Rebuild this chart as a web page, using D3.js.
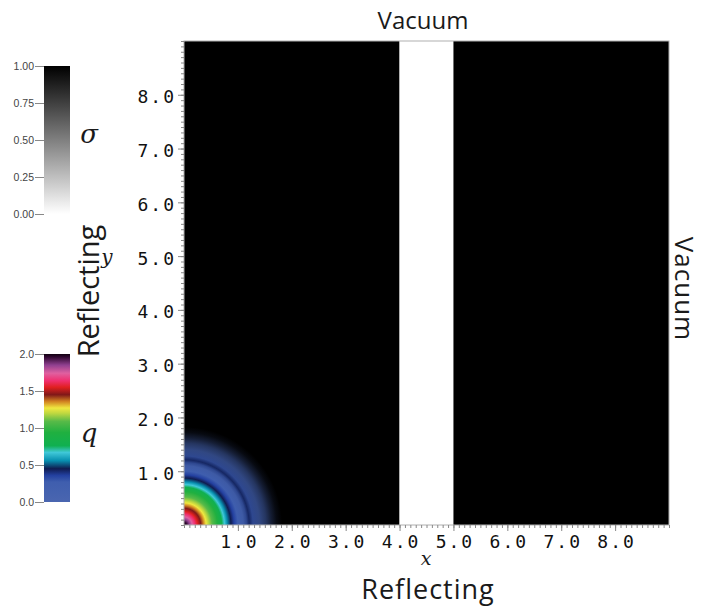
<!DOCTYPE html>
<html>
<head>
<meta charset="utf-8">
<script src="https://cdn.jsdelivr.net/npm/d3@7"></script>
<style>
  html, body { margin: 0; padding: 0; background: #fff; }
  svg { display: block; }
</style>
</head>
<body>
<svg id="chart" width="704" height="607"></svg>
<script>
// ---------------- DATA ----------------
const xTickLabels = [1, 2, 3, 4, 5, 6, 7, 8];
const yTickLabels = [1, 2, 3, 4, 5, 6, 7, 8];
const domainMax = 9;

// sigma field: vertical strips (x from, x to, sigma)
const stripX0 = [0, 4, 5];
const stripX1 = [4, 5, 9];
const stripSigma = [1, 0, 1];

// sigma colour bar ticks
const sigmaTicks = [0, 0.25, 0.5, 0.75, 1];
// q colour bar ticks
const qTicks = [0, 0.5, 1, 1.5, 2];

// q colormap stops (value -> colour)
const qMapValues = [0.0, 0.27, 0.36, 0.45, 0.56, 0.67, 0.76, 0.94, 1.09, 1.2, 1.27, 1.36, 1.45, 1.55, 1.64, 1.74, 1.85, 1.96, 2.0];
const qMapColors = ["#4a66b0", "#3f5eae", "#2340a0", "#101c50", "#0890b0", "#40c8d8", "#10b050", "#20b040", "#58ba48", "#c0d840", "#f0e840", "#d08020", "#801818", "#e02020", "#f03070", "#e060a0", "#904090", "#300830", "#100010"];

// radial profile of q about the source at the origin (radius in x units)
const profileR = [0.00, 0.05, 0.10, 0.15, 0.20, 0.25, 0.31, 0.36, 0.41, 0.45, 0.52, 0.62, 0.70, 0.75, 0.80, 0.87, 0.93, 1.00, 1.10, 1.16, 1.21, 1.28, 1.40, 1.52, 1.62, 1.72, 1.82];
const profileQ = [2.00, 1.96, 1.85, 1.74, 1.64, 1.55, 1.45, 1.36, 1.27, 1.20, 1.09, 0.94, 0.76, 0.67, 0.56, 0.45, 0.36, 0.27, 0.22, 0.30, 0.38, 0.30, 0.22, 0.18, 0.12, 0.08, 0.05];
const profileAlpha = [1, 1, 1, 1, 1, 1, 1, 1, 1, 1, 1, 1, 1, 1, 1, 1, 1, 1, 0.95, 0.85, 0.7, 0.85, 0.75, 0.55, 0.3, 0.1, 0];

// ---------------- DRAW ----------------
const svg = d3.select("#chart");
const defs = svg.append("defs");

const x = d3.scaleLinear().domain([0, domainMax]).range([184, 669]);
const y = d3.scaleLinear().domain([0, domainMax]).range([525, 41]);
const sigmaColor = d3.scaleLinear().domain([0, 1]).range(["#ffffff", "#000000"]);
const qColor = d3.scaleLinear().domain(qMapValues).range(qMapColors).clamp(true);

// clip for plot
defs.append("clipPath").attr("id", "plotClip")
  .append("rect").attr("x", x(0)).attr("y", y(domainMax))
  .attr("width", x(domainMax) - x(0)).attr("height", y(0) - y(domainMax));

const plot = svg.append("g").attr("clip-path", "url(#plotClip)");

// sigma strips
plot.selectAll("rect.strip").data(stripSigma).enter().append("rect")
  .attr("class", "strip")
  .attr("x", (d, i) => x(stripX0[i]))
  .attr("width", (d, i) => x(stripX1[i]) - x(stripX0[i]))
  .attr("y", y(domainMax))
  .attr("height", y(0) - y(domainMax))
  .attr("fill", d => sigmaColor(d));

// q radial field
const rMax = profileR[profileR.length - 1];
const rg = defs.append("radialGradient").attr("id", "qField")
  .attr("gradientUnits", "userSpaceOnUse")
  .attr("cx", x(0)).attr("cy", y(0)).attr("fx", x(0)).attr("fy", y(0))
  .attr("r", x(rMax) - x(0));
rg.selectAll("stop").data(profileR).enter().append("stop")
  .attr("offset", d => d / rMax)
  .attr("stop-color", (d, i) => qColor(profileQ[i]))
  .attr("stop-opacity", (d, i) => profileAlpha[i]);
plot.append("rect")
  .attr("x", x(0)).attr("y", y(rMax))
  .attr("width", x(rMax) - x(0)).attr("height", y(0) - y(rMax))
  .attr("fill", "url(#qField)");

// plot border
svg.append("rect")
  .attr("x", x(0)).attr("y", y(domainMax))
  .attr("width", x(domainMax) - x(0)).attr("height", y(0) - y(domainMax))
  .attr("fill", "none").attr("stroke", "#b0b0b0").attr("stroke-width", 1);

// axes
const minor = d3.range(0, domainMax + 0.001, 0.1).map(v => +v.toFixed(1));
const tickFont = "'DejaVu Sans Mono', 'Liberation Mono', monospace";

function styleAxis(g) {
  g.select(".domain").remove();
  g.selectAll(".tick line").attr("stroke", "#888").attr("stroke-width", 1);
}

const xMinor = svg.append("g").attr("transform", `translate(0,${y(0)})`)
  .call(d3.axisBottom(x).tickValues(minor).tickSize(3).tickFormat(""));
styleAxis(xMinor);
const xMajor = svg.append("g").attr("transform", `translate(0,${y(0)})`)
  .call(d3.axisBottom(x).tickValues(xTickLabels).tickSize(6).tickFormat(d3.format(".1f")).tickPadding(4));
styleAxis(xMajor);
xMajor.selectAll("text").attr("font-family", tickFont).attr("font-size", 18)
  .attr("letter-spacing", 2).attr("fill", "#111").attr("dy", "0.7em").attr("dx", 1);

const yMinor = svg.append("g").attr("transform", `translate(${x(0)},0)`)
  .call(d3.axisLeft(y).tickValues(minor).tickSize(3).tickFormat(""));
styleAxis(yMinor);
const yMajor = svg.append("g").attr("transform", `translate(${x(0)},0)`)
  .call(d3.axisLeft(y).tickValues(yTickLabels).tickSize(6).tickFormat(d3.format(".1f")).tickPadding(2));
styleAxis(yMajor);
yMajor.selectAll("text").attr("font-family", tickFont).attr("font-size", 18)
  .attr("letter-spacing", 2).attr("fill", "#111").attr("dy", "0.45em");

// titles
const titleFont = "'Open Sans', 'Noto Sans', sans-serif";
svg.append("text").attr("x", 423).attr("y", 29).attr("text-anchor", "middle")
  .attr("font-family", titleFont).attr("font-size", 24).attr("fill", "#1a1a1a").text("Vacuum");
svg.append("text").attr("x", 428).attr("y", 599).attr("text-anchor", "middle")
  .attr("font-family", titleFont).attr("font-size", 27).attr("letter-spacing", 1)
  .attr("fill", "#1a1a1a").text("Reflecting");
svg.append("text").attr("transform", "translate(675,289) rotate(90)").attr("text-anchor", "middle")
  .attr("font-family", titleFont).attr("font-size", 26).attr("letter-spacing", 1)
  .attr("fill", "#1a1a1a").text("Vacuum");
svg.append("text").attr("transform", "translate(99,291) rotate(-90)").attr("text-anchor", "middle")
  .attr("font-family", titleFont).attr("font-size", 29).attr("fill", "#1a1a1a").text("Reflecting");
svg.append("text").attr("x", 426).attr("y", 565).attr("text-anchor", "middle")
  .attr("font-family", "'DejaVu Serif', 'Liberation Serif', serif").attr("font-style", "italic")
  .attr("font-size", 19).attr("fill", "#1a1a1a").text("x");
svg.append("text").attr("x", 107).attr("y", 264).attr("text-anchor", "middle")
  .attr("font-family", "'DejaVu Serif', 'Liberation Serif', serif").attr("font-style", "italic")
  .attr("font-size", 20).attr("fill", "#1a1a1a").text("y");

// colour bars
function colorBar(id, top, bottom, domain, stopsV, stopsC, ticks, fmt, label, labelY) {
  const s = d3.scaleLinear().domain(domain).range([bottom, top]);
  const lg = defs.append("linearGradient").attr("id", id)
    .attr("x1", 0).attr("y1", 1).attr("x2", 0).attr("y2", 0);
  lg.selectAll("stop").data(stopsV).enter().append("stop")
    .attr("offset", d => (d - domain[0]) / (domain[1] - domain[0]))
    .attr("stop-color", (d, i) => stopsC[i]);
  svg.append("rect").attr("x", 44).attr("y", top).attr("width", 26).attr("height", bottom - top)
    .attr("fill", `url(#${id})`);
  const ax = svg.append("g").attr("transform", "translate(44,0)")
    .call(d3.axisLeft(s).tickValues(ticks).tickSize(9).tickPadding(1).tickFormat(d3.format(fmt)));
  ax.select(".domain").remove();
  ax.selectAll(".tick line").attr("stroke", "#888");
  ax.selectAll("text").attr("font-family", "'Liberation Sans', Arial, sans-serif")
    .attr("font-size", 10.5).attr("fill", "#444");
  svg.append("text").attr("x", 89).attr("y", labelY).attr("text-anchor", "middle")
    .attr("font-family", "'DejaVu Serif', 'Liberation Serif', serif").attr("font-style", "italic")
    .attr("font-size", 26).attr("fill", "#1a1a1a").text(label);
}
colorBar("sigmaGrad", 66, 214, [0, 1], [0, 1], ["#ffffff", "#000000"], sigmaTicks, ".2f", "σ", 143);
colorBar("qGrad", 354, 502, [0, 2], qMapValues, qMapColors, qTicks, ".1f", "q", 442);
</script>
</body>
</html>
